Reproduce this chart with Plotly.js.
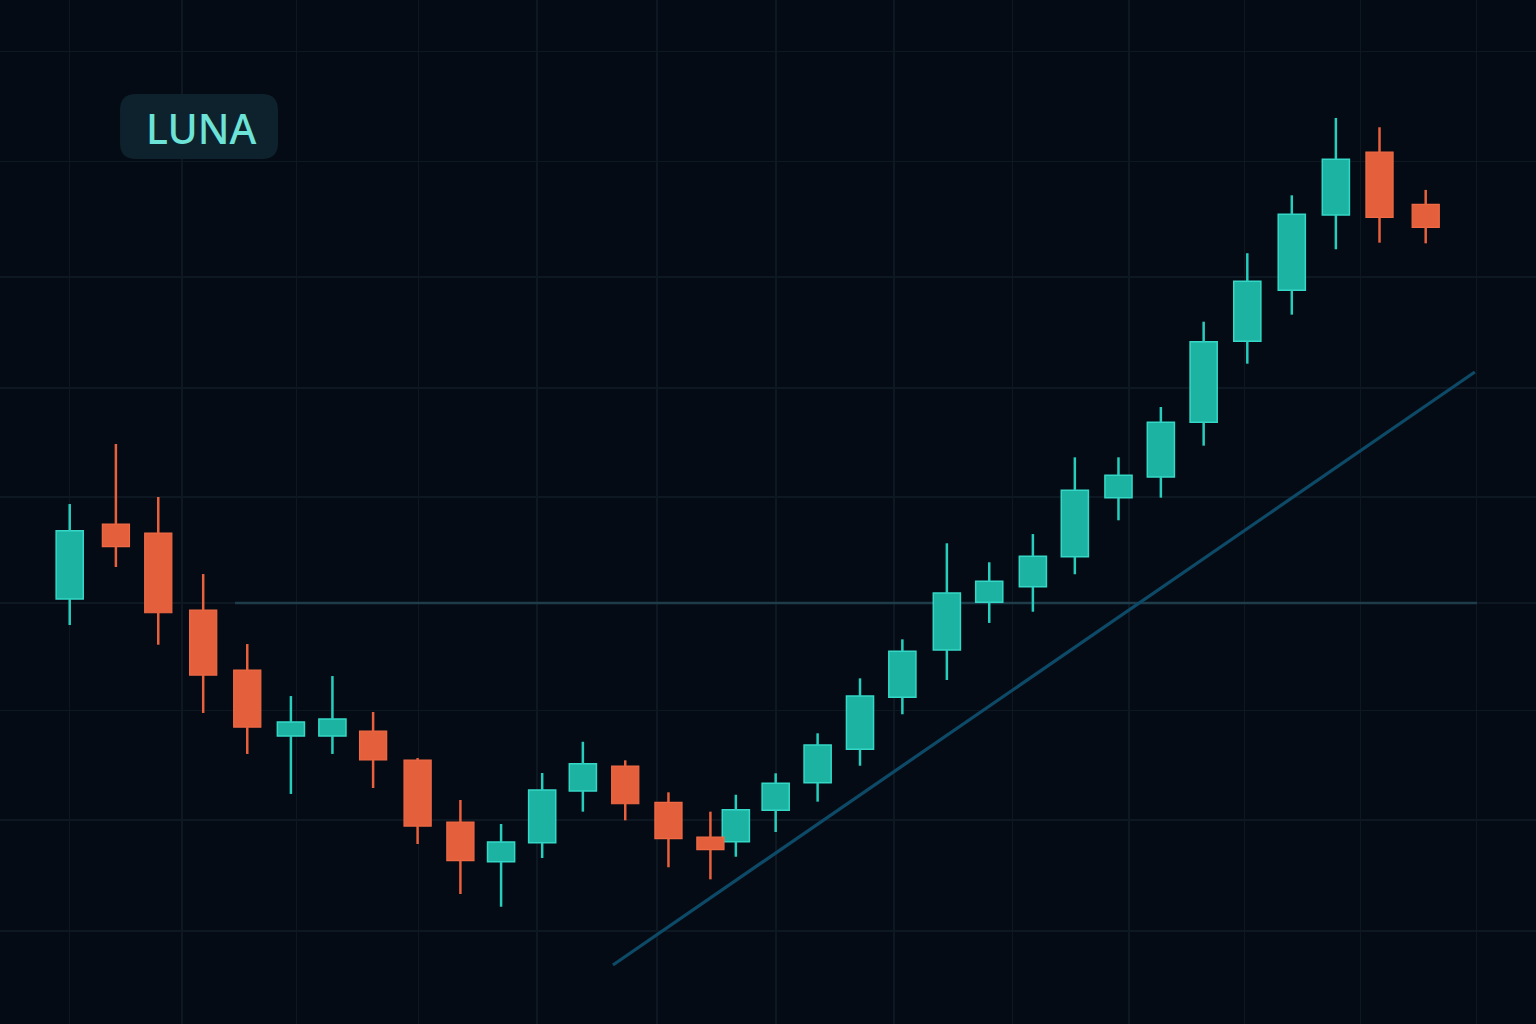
<!DOCTYPE html>
<html>
<head>
<meta charset="utf-8">
<script src="https://cdn.plot.ly/plotly-3.0.1.min.js"></script>
<style>
  html, body { margin: 0; padding: 0; background: #050b14; }
  #chart { width: 1536px; height: 1024px; }
</style>
</head>
<body>
<div id="chart"></div>
<script>
// ---- data ----
const symbol = "LUNA";
const sessions = [0, 1.09, 2.09, 3.15, 4.19, 5.22, 6.20, 7.16, 8.21, 9.22, 10.18, 11.15, 12.11, 13.11, 14.13, 15.12, 15.72,
                  16.66, 17.65, 18.65, 19.65, 20.70, 21.70, 22.73, 23.72, 24.75, 25.75, 26.76, 27.79, 28.84, 29.88, 30.91, 32.00];
const openP  = [50.21, 57.03, 56.21, 49.21, 43.75, 37.74, 37.74, 38.20, 35.56, 29.92, 26.31, 28.03, 32.74, 35.01, 31.71, 28.55, 28.13,
                30.98, 33.49, 36.53, 41.26, 45.57, 49.91, 51.33, 54.06, 59.43, 61.31, 66.29, 73.66, 78.30, 85.15, 90.88, 86.12];
const highP  = [58.85, 64.31, 59.49, 52.48, 46.11, 41.38, 43.20, 39.93, 35.74, 31.92, 29.74, 34.38, 37.22, 35.53, 32.62, 30.86, 32.40,
                34.35, 37.99, 42.99, 46.54, 55.28, 53.55, 56.12, 63.10, 63.10, 67.68, 75.44, 81.67, 86.94, 93.98, 93.13, 87.43];
const lowP   = [47.84, 53.12, 46.05, 39.84, 36.11, 32.47, 36.11, 33.01, 27.92, 23.37, 22.21, 26.64, 30.86, 30.07, 25.80, 24.70, 26.76,
                29.01, 31.77, 35.04, 39.72, 42.84, 48.03, 49.05, 52.46, 57.37, 59.43, 64.16, 71.62, 76.08, 82.03, 82.63, 82.57];
const closeP = [56.42, 54.97, 48.96, 43.29, 38.56, 39.02, 39.29, 35.56, 29.55, 26.40, 28.10, 32.83, 35.22, 31.58, 28.40, 27.40, 31.04,
                33.44, 36.92, 41.38, 45.45, 50.76, 51.82, 54.09, 60.10, 61.47, 66.29, 73.62, 79.12, 85.21, 90.22, 84.94, 84.03];
const supportLevel = 49.85;
const supportFrom = 3.90, supportTo = 33.21;
const trendX = [12.82, 33.16];
const trendY = [16.91, 70.86];
const gridX = [0, 2.65, 5.36, 8.24, 11.03, 13.86, 16.67, 19.45, 22.24, 25.00, 27.73, 30.47, 33.19];
const gridY = [20, 30.1, 40.1, 49.85, 59.49, 69.41, 79.51, 89.99, 100];

// ---- styling ----
const UP_FILL = "#1cb3a3", UP_LINE = "#35d8c6", UP_WICK = "#27cdbd";
const DN_FILL = "#e45f3b", DN_LINE = "#ef6a45", DN_WICK = "#e8613c";
const BG = "#050b14", GRID = "#0d1822";
const BODY_W = 0.64;

function build(up) {
  const bx = [], base = [], h = [];
  const wx = [], wy = [];
  for (let i = 0; i < sessions.length; i++) {
    const isUp = closeP[i] >= openP[i];
    if (isUp !== up) continue;
    const top = Math.max(openP[i], closeP[i]);
    const bot = Math.min(openP[i], closeP[i]);
    bx.push(sessions[i]); base.push(bot); h.push(top - bot);
    wx.push(sessions[i], sessions[i], null, sessions[i], sessions[i], null);
    wy.push(highP[i], top, null, bot, lowP[i], null);
  }
  return {bx, base, h, wx, wy};
}
const U = build(true), D = build(false);

const traces = [
  {type: "bar", x: U.bx, y: U.h, base: U.base, width: BODY_W,
   marker: {color: UP_FILL, line: {color: UP_LINE, width: 1.5}}, hoverinfo: "skip"},
  {type: "bar", x: D.bx, y: D.h, base: D.base, width: BODY_W,
   marker: {color: DN_FILL, line: {color: DN_LINE, width: 1.2}}, hoverinfo: "skip"},
  {type: "scatter", mode: "lines", x: U.wx, y: U.wy, line: {color: UP_WICK, width: 2.5}, hoverinfo: "skip", connectgaps: false},
  {type: "scatter", mode: "lines", x: D.wx, y: D.wy, line: {color: DN_WICK, width: 2.5}, hoverinfo: "skip", connectgaps: false}
];

// rounded label box (paper coords)
const W = 1536, H = 1024;
function roundedRect(x0, y0, x1, y1, r) {
  const px = v => (v / W).toFixed(5), py = v => (1 - v / H).toFixed(5);
  return `M ${px(x0 + r)} ${py(y0)} L ${px(x1 - r)} ${py(y0)} Q ${px(x1)} ${py(y0)} ${px(x1)} ${py(y0 + r)} ` +
         `L ${px(x1)} ${py(y1 - r)} Q ${px(x1)} ${py(y1)} ${px(x1 - r)} ${py(y1)} ` +
         `L ${px(x0 + r)} ${py(y1)} Q ${px(x0)} ${py(y1)} ${px(x0)} ${py(y1 - r)} ` +
         `L ${px(x0)} ${py(y0 + r)} Q ${px(x0)} ${py(y0)} ${px(x0 + r)} ${py(y0)} Z`;
}

const layout = {
  width: W, height: H,
  margin: {l: 0, r: 0, t: 0, b: 0},
  paper_bgcolor: BG, plot_bgcolor: BG,
  showlegend: false,
  barmode: "overlay",
  xaxis: {range: [-1.645, 34.603], tickvals: gridX, showticklabels: false, ticks: "",
          showgrid: true, gridcolor: GRID, gridwidth: 1.2, zeroline: false, showline: false, fixedrange: true},
  yaxis: {range: [11.54, 104.71], tickvals: gridY, showticklabels: false, ticks: "",
          showgrid: true, gridcolor: GRID, gridwidth: 1.2, zeroline: false, showline: false, fixedrange: true},
  shapes: [
    {type: "line", xref: "x", yref: "y", x0: supportFrom, x1: supportTo, y0: supportLevel, y1: supportLevel,
     line: {color: "#1e3c4a", width: 2.5}, layer: "between"},
    {type: "line", xref: "x", yref: "y", x0: trendX[0], x1: trendX[1], y0: trendY[0], y1: trendY[1],
     line: {color: "#0d4a67", width: 3.2}, layer: "between"},
    {type: "path", xref: "paper", yref: "paper", path: roundedRect(120, 94, 278, 159, 16),
     fillcolor: "#0e222e", line: {width: 0}, layer: "above"}
  ],
  annotations: [
    {xref: "paper", yref: "paper", x: 201 / W, y: 1 - 128 / H, xanchor: "center", yanchor: "middle",
     text: symbol, showarrow: false,
     font: {family: "Noto Sans, DejaVu Sans, sans-serif", size: 41, weight: 500, color: "#6de2d6"}}
  ]
};

Plotly.newPlot("chart", traces, layout, {displayModeBar: false, staticPlot: true});
</script>
</body>
</html>
